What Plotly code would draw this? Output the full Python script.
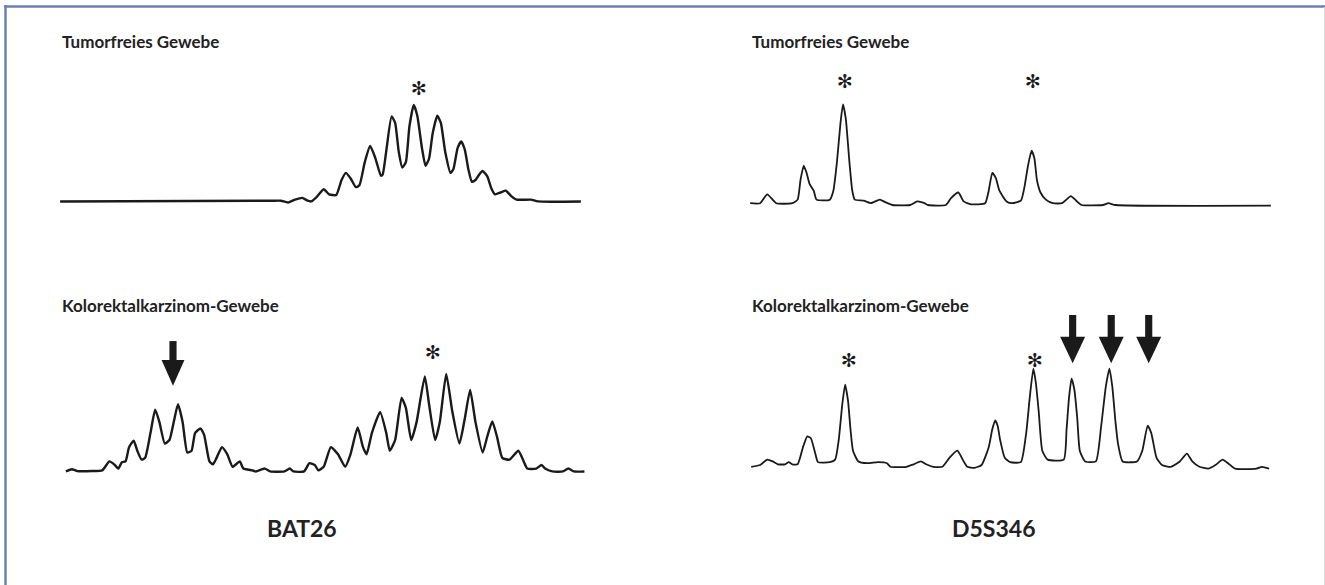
import plotly.graph_objects as go

W, H = 1325, 585

# ---- data: electropherogram traces (migration position, signal intensity) ----
bat_normal_x = [62, 655, 680, 700, 720, 740, 755, 765, 780, 800, 815, 835, 850, 862, 875, 890, 900, 915, 930, 945,
                960, 965, 975, 990, 1000, 1010, 1020, 1030, 1040, 1052, 1062, 1075, 1085, 1095, 1105, 1118, 1128,
                1140, 1155, 1163, 1175, 1185, 1195, 1205, 1215, 1225, 1235, 1245, 1258, 1270, 1280, 1295, 1310,
                1325, 1340, 1380, 1400, 1520]
bat_normal_y = [0, 2, 2, -3, 5, 10, 2, 0, 12, 34, 20, 18, 60, 80, 65, 40, 45, 110, 155, 120,
                72, 75, 140, 238, 220, 140, 95, 110, 210, 270, 240, 150, 100, 120, 190, 240, 220,
                140, 80, 90, 150, 168, 145, 90, 55, 60, 75, 85, 70, 35, 20, 25, 30,
                15, 5, 5, 0, 0]

d5_normal_x = [62, 90, 110, 135, 180, 195, 203, 212, 220, 228, 240, 248, 285, 295, 305, 315, 322, 330, 340, 348,
               355, 380, 400, 425, 440, 460, 510, 530, 550, 560, 610, 625, 645, 660, 680, 720, 730, 740, 750, 760,
               780, 795, 820, 830, 840, 850, 858, 865, 875, 890, 910, 935, 960, 975, 990, 1050, 1065, 1085, 1520]
d5_normal_y = [3, 3, 28, 3, 3, 13, 68, 108, 88, 58, 38, 13, 13, 38, 118, 228, 280, 238, 118, 38,
               13, 10, 3, 13, 6, -2, -2, 8, 3, -2, -2, 18, 33, 8, 0, 3, 38, 88, 73, 38,
               8, 3, 10, 48, 108, 150, 128, 68, 33, 13, 3, 3, 23, 10, -2, -2, 3, -2, -4]

bat_tumor_x = [78, 95, 110, 150, 180, 200, 215, 225, 235, 245, 255, 268, 278, 290, 300, 315, 328, 340, 355, 368,
               380, 392, 405, 418, 430, 440, 455, 465, 480, 490, 500, 515, 530, 545, 565, 575, 600, 610, 635, 650,
               690, 705, 715, 745, 760, 775, 785, 800, 820, 840, 860, 875, 895, 910, 920, 935, 958, 975, 985, 1000,
               1018, 1030, 1045, 1060, 1083, 1095, 1112, 1125, 1143, 1160, 1180, 1195, 1210, 1225, 1245, 1258,
               1272, 1285, 1300, 1320, 1345, 1360, 1370, 1395, 1410, 1420, 1440, 1470, 1485, 1500, 1530]
bat_tumor_y = [0, 6, 1, 1, 3, 28, 18, 8, 26, 28, 68, 86, 58, 33, 38, 108, 173, 138, 78, 88,
               138, 188, 138, 53, 58, 108, 120, 103, 28, 20, 38, 68, 48, 13, 28, 8, 3, 0, 8, 0,
               0, 8, 0, 0, 23, 18, 3, 13, 68, 48, 13, 48, 123, 68, 48, 108, 166, 108, 58, 88,
               206, 178, 88, 138, 266, 188, 88, 138, 273, 168, 78, 148, 228, 138, 53, 98,
               140, 98, 38, 33, 58, 28, 8, 8, 18, 8, 0, 0, 8, 0, 0]

d5_tumor_x = [65, 90, 110, 125, 140, 160, 170, 180, 195, 210, 222, 232, 245, 252, 285, 300, 310, 320, 328, 336,
              343, 350, 365, 390, 420, 445, 455, 500, 520, 540, 555, 575, 600, 620, 642, 660, 670, 690, 710, 730,
              740, 748, 755, 762, 775, 790, 820, 835, 845, 855, 862, 870, 880, 895, 940, 948, 955, 962, 970, 978,
              985, 1000, 1030, 1045, 1058, 1068, 1076, 1085, 1092, 1105, 1145, 1160, 1175, 1185, 1200, 1215, 1240,
              1265, 1285, 1300, 1320, 1345, 1365, 1385, 1400, 1420, 1480, 1495, 1515]
d5_tumor_y = [-5, 0, 15, 10, 2, 2, 8, 2, 2, 50, 80, 75, 30, 8, 8, 15, 70, 170, 225, 180,
              100, 40, 10, 5, 8, 5, -5, -5, 2, 10, 2, -5, -5, 20, 40, 10, -5, -8, 0, 50,
              100, 125, 110, 70, 20, 8, 8, 90, 190, 270, 230, 150, 40, 15, 15, 100, 190, 242, 210, 130,
              40, 10, 10, 110, 220, 270, 220, 120, 60, 10, 10, 40, 110, 90, 20, 0, -5,
              10, 32, 10, -5, -10, 0, 15, 5, -10, -10, -5, -10]

# marked alleles (asterisks) and new alleles (arrows): positions / label heights
bat_normal_star_x, bat_normal_star_y = [1068], [318]
d5_normal_star_x, d5_normal_star_y = [328, 855], [344, 344]
bat_tumor_star_x, bat_tumor_star_y = [1105], [334]
d5_tumor_star_x, d5_tumor_star_y = [340, 860], [293, 293]
bat_tumor_arrow_x = [378]
d5_tumor_arrow_x = [965, 1073, 1178]

panel_titles = ["Tumorfreies Gewebe", "Tumorfreies Gewebe",
                "Kolorektalkarzinom-Gewebe", "Kolorektalkarzinom-Gewebe"]
marker_names = ["BAT26", "D5S346"]

# ---- layout helpers ----
def px(x):
    return x / W

def py(y):
    return 1 - y / H

panels = [
    dict(box=(38, 55), base=410, x=bat_normal_x, y=bat_normal_y, sx=bat_normal_star_x, sy=bat_normal_star_y, lw=2.4),
    dict(box=(728, 55), base=418, x=d5_normal_x, y=d5_normal_y, sx=d5_normal_star_x, sy=d5_normal_star_y, lw=1.8),
    dict(box=(38, 315), base=438, x=bat_tumor_x, y=bat_tumor_y, sx=bat_tumor_star_x, sy=bat_tumor_star_y, lw=2.4),
    dict(box=(728, 315), base=420, x=d5_tumor_x, y=d5_tumor_y, sx=d5_tumor_star_x, sy=d5_tumor_star_y, lw=1.8),
]
arrow_spec = {2: dict(xs=bat_tumor_arrow_x, top=365, head=312, tip=240, hw=32, sw=10),
              3: dict(xs=d5_tumor_arrow_x, top=421, head=359, tip=285, hw=35, sw=10)}

fig = go.Figure()
layout = dict(width=W, height=H, margin=dict(l=0, r=0, t=0, b=0),
              paper_bgcolor="white", plot_bgcolor="white", showlegend=False)
annotations = []
shapes = []

for i, p in enumerate(panels):
    n = "" if i == 0 else str(i + 1)
    x0, y0 = p["box"]
    layout["xaxis" + n] = dict(domain=[px(x0), px(x0 + 560)], range=[0, 1568], visible=False, fixedrange=True)
    layout["yaxis" + n] = dict(domain=[py(y0 + 160), py(y0)], range=[p["base"] - 448, p["base"]],
                               visible=False, fixedrange=True)
    fig.add_trace(go.Scatter(x=p["x"], y=p["y"], mode="lines", xaxis="x" + n, yaxis="y" + n,
                             line=dict(color="#1a1a1a", width=p["lw"], shape="spline", smoothing=0.5),
                             hoverinfo="skip"))
    for sx, sy in zip(p["sx"], p["sy"]):
        annotations.append(dict(x=sx, y=sy, xref="x" + n, yref="y" + n, text="✻", showarrow=False,
                                font=dict(size=19, color="#1a1a1a", family="DejaVu Sans")))
    if i in arrow_spec:
        a = arrow_spec[i]
        for ax in a["xs"]:
            shapes.append(dict(type="rect", xref="x" + n, yref="y" + n,
                               x0=ax - a["sw"], x1=ax + a["sw"], y0=a["head"] - 2, y1=a["top"],
                               fillcolor="#1a1a1a", line=dict(width=0)))
            shapes.append(dict(type="path", xref="x" + n, yref="y" + n,
                               path=f"M {ax - a['hw']},{a['head']} L {ax + a['hw']},{a['head']} L {ax},{a['tip']} Z",
                               fillcolor="#1a1a1a", line=dict(width=0)))

label_font = dict(family="Lato", size=17, color="#222222")
title_pos = [(60, 42), (750, 42), (60, 305), (750, 305)]
for t, (tx, ty) in zip(panel_titles, title_pos):
    annotations.append(dict(x=px(tx), y=py(ty), xref="paper", yref="paper", text="<b>" + t + "</b>",
                            showarrow=False, xanchor="left", yanchor="middle", font=label_font))
for t, cx in zip(marker_names, [302, 993]):
    annotations.append(dict(x=px(cx), y=py(528), xref="paper", yref="paper", text="<b>" + t + "</b>",
                            showarrow=False, xanchor="center", yanchor="middle",
                            font=dict(family="Lato", size=23, color="#222222")))

# frame
frame_col = "#6b80b5"
shapes.append(dict(type="line", xref="paper", yref="paper", x0=px(5.5), x1=px(5.5), y0=py(5), y1=0,
                   line=dict(color=frame_col, width=2.5)))
shapes.append(dict(type="line", xref="paper", yref="paper", x0=px(4.5), x1=1, y0=py(6.5), y1=py(6.5),
                   line=dict(color=frame_col, width=2.5)))
shapes.append(dict(type="line", xref="paper", yref="paper", x0=px(1324.5), x1=px(1324.5), y0=py(7), y1=0,
                   line=dict(color="#dddddd", width=1)))

layout["annotations"] = annotations
layout["shapes"] = shapes
fig.update_layout(**layout)
fig.write_html("out.html", config={"displayModeBar": False},
               post_script="document.body.style.margin='0';document.body.style.overflow='hidden';")
